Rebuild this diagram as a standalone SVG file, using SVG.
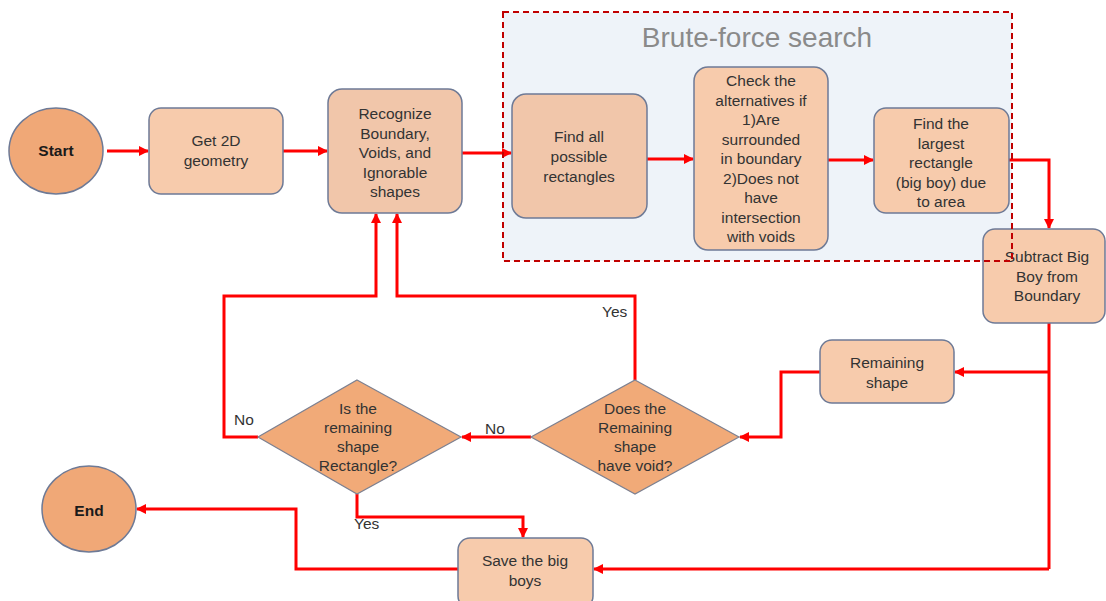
<svg xmlns="http://www.w3.org/2000/svg" width="1106" height="601" viewBox="0 0 1106 601">
  <style>
    .box { fill: #f7cbac; stroke: #6e7a96; stroke-width: 1.5; }
    .box2 { fill: #f1c6aa; stroke: #6e7a96; stroke-width: 1.5; }
    .term { fill: #f0a877; stroke: #6e7a96; stroke-width: 1.5; }
    .dec { fill: #f1aa78; stroke: #7d8090; stroke-width: 1.2; }
    .t { font-family: "Liberation Sans", Arial, sans-serif; font-size: 15.5px; fill: #333333; text-anchor: middle; }
    .lbl { font-family: "Liberation Sans", Arial, sans-serif; font-size: 15.5px; fill: #333333; }
    .bold { font-weight: bold; fill: #1a1a1a; }
    .wire { fill: none; stroke: #ff0000; stroke-width: 3; marker-end: url(#arr); }
    .wire0 { fill: none; stroke: #ff0000; stroke-width: 3; }
  </style>
  <defs>
    <marker id="arr" viewBox="0 0 10 10" refX="9" refY="5" markerWidth="10" markerHeight="10" markerUnits="userSpaceOnUse" orient="auto">
      <path d="M0,0 L10,5 L0,10 z" fill="#ff0000"/>
    </marker>
  </defs>

  <rect width="1106" height="601" fill="#ffffff"/>

  <!-- brute-force search region background -->
  <g id="bruteforce-bg">
    <rect x="503" y="12" width="509" height="249" fill="#eef3f9"/>
    <text x="757" y="47" font-family="Liberation Sans, Arial, sans-serif" font-size="28" fill="#8a8a8a" text-anchor="middle">Brute-force search</text>
  </g>

  <!-- connectors -->
  <g id="connectors">
    <path class="wire" d="M107,151 L148,151"/>
    <path class="wire" d="M283,151 L327,151"/>
    <path class="wire" d="M462,153 L511,153"/>
    <path class="wire" d="M647,159 L693,159"/>
    <path class="wire" d="M828,160 L873,160"/>
    <path class="wire" d="M1009,160 L1049,160 L1049,228"/>
    <path class="wire0" d="M1049,323 L1049,569"/>
    <path class="wire" d="M1049,372 L955,372"/>
    <path class="wire" d="M1049,569 L594,569"/>
    <path class="wire" d="M820,372 L781,372 L781,437 L740,437"/>
    <path class="wire" d="M531,437 L462,437"/>
    <path class="wire" d="M635,380 L635,296 L397,296 L397,214"/>
    <path class="wire" d="M258,437 L224,437 L224,296 L376,296 L376,214"/>
    <path class="wire" d="M357,494 L357,517 L523,517 L523,537"/>
    <path class="wire" d="M458,569 L296,569 L296,509 L137,509"/>
    <text class="lbl" x="602" y="317">Yes</text>
    <text class="lbl" x="234" y="425">No</text>
    <text class="lbl" x="485" y="434">No</text>
    <text class="lbl" x="354" y="529">Yes</text>
  </g>

  <g id="start">
    <ellipse class="term" cx="56" cy="151" rx="47" ry="43"/>
    <text class="t bold" x="56" y="156" font-size="14.5">Start</text>
  </g>

  <g id="get-geometry">
    <rect class="box" x="149" y="108" width="134" height="86" rx="12"/>
    <text class="t" x="216" y="146">Get 2D</text>
    <text class="t" x="216" y="166">geometry</text>
  </g>

  <g id="recognize">
    <rect class="box2" x="328" y="89" width="134" height="124" rx="14"/>
    <text class="t" x="395" y="119">Recognize</text>
    <text class="t" x="395" y="138.5">Boundary,</text>
    <text class="t" x="395" y="158">Voids, and</text>
    <text class="t" x="395" y="177.5">Ignorable</text>
    <text class="t" x="395" y="197">shapes</text>
  </g>

  <g id="find-all">
    <rect class="box2" x="512" y="94" width="135" height="124" rx="14"/>
    <text class="t" x="579" y="142">Find all</text>
    <text class="t" x="579" y="162">possible</text>
    <text class="t" x="579" y="182">rectangles</text>
  </g>

  <g id="check-alternatives">
    <rect class="box" x="694" y="67" width="134" height="183" rx="14"/>
    <text class="t" x="761" y="86">Check the</text>
    <text class="t" x="761" y="105.5">alternatives if</text>
    <text class="t" x="761" y="125">1)Are</text>
    <text class="t" x="761" y="144.5">surrounded</text>
    <text class="t" x="761" y="164">in boundary</text>
    <text class="t" x="761" y="183.5">2)Does not</text>
    <text class="t" x="761" y="203">have</text>
    <text class="t" x="761" y="222.5">intersection</text>
    <text class="t" x="761" y="242">with voids</text>
  </g>

  <g id="find-largest">
    <rect class="box" x="874" y="108" width="135" height="105" rx="12"/>
    <text class="t" x="941" y="129">Find the</text>
    <text class="t" x="941" y="148.5">largest</text>
    <text class="t" x="941" y="168">rectangle</text>
    <text class="t" x="941" y="187.5">(big boy) due</text>
    <text class="t" x="941" y="207">to area</text>
  </g>

  <g id="subtract">
    <rect class="box" x="983" y="229" width="122" height="94" rx="12"/>
    <text class="t" x="1047" y="262">Subtract Big</text>
    <text class="t" x="1047" y="281.5">Boy from</text>
    <text class="t" x="1047" y="301">Boundary</text>
  </g>

  <!-- dashed outline of the search region, drawn above the boxes -->
  <rect x="503" y="12" width="509" height="249" fill="none" stroke="#c00000" stroke-width="2" stroke-dasharray="6 4"/>

  <g id="remaining-shape">
    <rect class="box" x="820" y="340" width="134" height="63" rx="12"/>
    <text class="t" x="887" y="368">Remaining</text>
    <text class="t" x="887" y="388">shape</text>
  </g>

  <g id="has-void">
    <polygon class="dec" points="635,380 739,437 635,494 531,437"/>
    <text class="t" x="635" y="414">Does the</text>
    <text class="t" x="635" y="433">Remaining</text>
    <text class="t" x="635" y="452">shape</text>
    <text class="t" x="635" y="471">have void?</text>
  </g>

  <g id="is-rectangle">
    <polygon class="dec" points="357,380 461,437 357,494 258,437"/>
    <text class="t" x="358" y="414">Is the</text>
    <text class="t" x="358" y="433">remaining</text>
    <text class="t" x="358" y="452">shape</text>
    <text class="t" x="358" y="471">Rectangle?</text>
  </g>

  <g id="save">
    <rect class="box" x="458" y="538" width="135" height="70" rx="12"/>
    <text class="t" x="525" y="566">Save the big</text>
    <text class="t" x="525" y="586">boys</text>
  </g>

  <g id="end">
    <ellipse class="term" cx="89" cy="509" rx="47" ry="43"/>
    <text class="t bold" x="89" y="515.5" font-size="18">End</text>
  </g>
</svg>
